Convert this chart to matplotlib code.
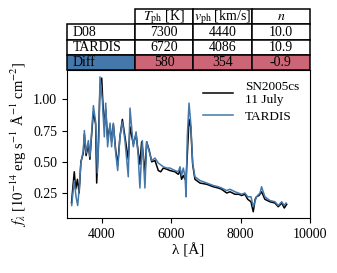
import matplotlib
matplotlib.use("Agg")
import matplotlib.pyplot as plt

plt.rcParams['font.family'] = ['Liberation Serif', 'DejaVu Serif']
plt.rcParams['mathtext.fontset'] = 'stix'

# spectra
wave_obs = [3130, 3170, 3210, 3250, 3300, 3350, 3400, 3470, 3500, 3550, 3615, 3660,
            3710, 3760, 3825, 3855, 3900, 3950, 4000, 4030, 4075, 4115, 4170, 4240,
            4285, 4335, 4400, 4460, 4525, 4595, 4670, 4765, 4815, 4910, 4990, 5050,
            5100, 5150, 5200, 5245, 5295, 5370, 5440, 5535, 5630, 5700, 5775, 5880,
            5965, 6110, 6205, 6255, 6300, 6350, 6400, 6430, 6465, 6515, 6565, 6620,
            6685, 6830, 7025, 7215, 7360, 7455, 7600, 7695, 7840, 7950, 8030, 8125,
            8205, 8300, 8365, 8420, 8460, 8530, 8605, 8700, 8845, 8990, 9085, 9185,
            9260, 9330]
flux_obs = [0.17, 0.30, 0.42, 0.28, 0.36, 0.25, 0.50, 0.57, 0.72, 0.55, 0.64, 0.52,
            0.72, 0.90, 0.80, 0.33, 0.62, 1.10, 1.17, 0.99, 0.78, 0.92, 0.68, 0.79,
            0.66, 0.80, 0.60, 0.47, 0.70, 0.84, 0.70, 0.52, 0.78, 0.64, 0.72, 0.58,
            0.48, 0.66, 0.55, 0.40, 0.66, 0.59, 0.50, 0.51, 0.43, 0.42, 0.45, 0.44,
            0.43, 0.42, 0.40, 0.43, 0.36, 0.39, 0.36, 0.37, 0.55, 0.84, 0.78, 0.48,
            0.36, 0.33, 0.32, 0.30, 0.29, 0.28, 0.25, 0.26, 0.24, 0.24, 0.23, 0.24,
            0.20, 0.18, 0.10, 0.20, 0.22, 0.23, 0.26, 0.20, 0.18, 0.17, 0.14, 0.17,
            0.13, 0.16]

wave_mod = [3135, 3170, 3210, 3260, 3308, 3350, 3400, 3470, 3500, 3550, 3615, 3660,
            3710, 3760, 3825, 3875, 3920, 3950, 4020, 4075, 4115, 4170, 4240, 4285,
            4335, 4400, 4460, 4525, 4595, 4670, 4765, 4815, 4910, 4990, 5050, 5100,
            5170, 5245, 5295, 5370, 5440, 5535, 5630, 5775, 5880, 5965, 6110, 6205,
            6255, 6300, 6350, 6400, 6430, 6465, 6515, 6565, 6620, 6685, 6830, 7025,
            7215, 7360, 7455, 7600, 7695, 7840, 8030, 8125, 8205, 8300, 8365, 8460,
            8560, 8605, 8700, 8845, 8990, 9085, 9185, 9260, 9310]
flux_mod = [0.15, 0.25, 0.35, 0.22, 0.15, 0.28, 0.49, 0.59, 0.75, 0.57, 0.67, 0.54,
            0.74, 0.95, 0.82, 0.41, 0.70, 1.18, 0.99, 0.70, 0.97, 0.62, 0.81, 0.62,
            0.81, 0.58, 0.43, 0.70, 0.82, 0.67, 0.38, 0.93, 0.62, 0.74, 0.55, 0.29,
            0.67, 0.29, 0.66, 0.58, 0.51, 0.53, 0.49, 0.46, 0.45, 0.45, 0.43, 0.42,
            0.46, 0.39, 0.45, 0.38, 0.22, 0.70, 0.97, 0.81, 0.49, 0.38, 0.35, 0.33,
            0.31, 0.30, 0.29, 0.27, 0.28, 0.26, 0.24, 0.25, 0.22, 0.22, 0.14, 0.22,
            0.25, 0.30, 0.22, 0.19, 0.18, 0.15, 0.18, 0.15, 0.17]

col_labels = [r'$T_{\rm ph}$ [K]', r'$v_{\rm ph}$ [km/s]', r'$n$']
row_labels = ['D08', 'TARDIS', 'Diff']
cells = [['7300', '4440', '10.0'],
         ['6720', '4086', '10.9'],
         ['580', '354', '-0.9']]

blue = '#4477AA'
rose = '#CC6677'

fig = plt.figure(figsize=(3.37, 2.73), dpi=100)
ax = fig.add_axes([67/337, 55/273, 243/337, 148/273])

ax.plot(wave_obs, flux_obs, color='black', lw=1.1, label='SN2005cs\n11 July')
ax.plot(wave_mod, flux_mod, color=blue, lw=1.1, label='TARDIS')

ax.set_xlim(3000, 10000)
ax.set_ylim(0.05, 1.235)
ax.set_xticks([4000, 6000, 8000, 10000])
ax.set_yticks([0.25, 0.5, 0.75, 1.0])
ax.tick_params(labelsize=10, direction='out', length=3.5)
ax.set_xlabel('λ [Å]', fontsize=11, labelpad=2)
ax.set_ylabel(r'$f_\lambda$ [$10^{-14}$ erg s$^{-1}$ Å$^{-1}$ cm$^{-2}$]',
              fontsize=10.5, labelpad=3)
ax.legend(loc='upper right', frameon=False, fontsize=9.5, handlelength=2.3,
          borderaxespad=0.4, labelspacing=0.3, handletextpad=0.9)

# table above the axes
tab = ax.table(cellText=[[''] + col_labels] + [[r] + c for r, c in zip(row_labels, cells)],
               cellLoc='center', bbox=[0, 1.0, 1.0, 0.41],
               colWidths=[0.28, 0.24, 0.24, 0.24])
tab.auto_set_font_size(False)
tab.set_fontsize(10)
for (r, c), cell in tab.get_celld().items():
    cell.set_linewidth(1.1)
    if r == 0 and c == 0:
        cell.visible_edges = ''
    if c == 0:
        cell.get_text().set_ha('left')
        cell.PAD = 0.08
    if r == 3:
        cell.set_facecolor(blue if c == 0 else rose)

fig.savefig('out.png', dpi=100)
